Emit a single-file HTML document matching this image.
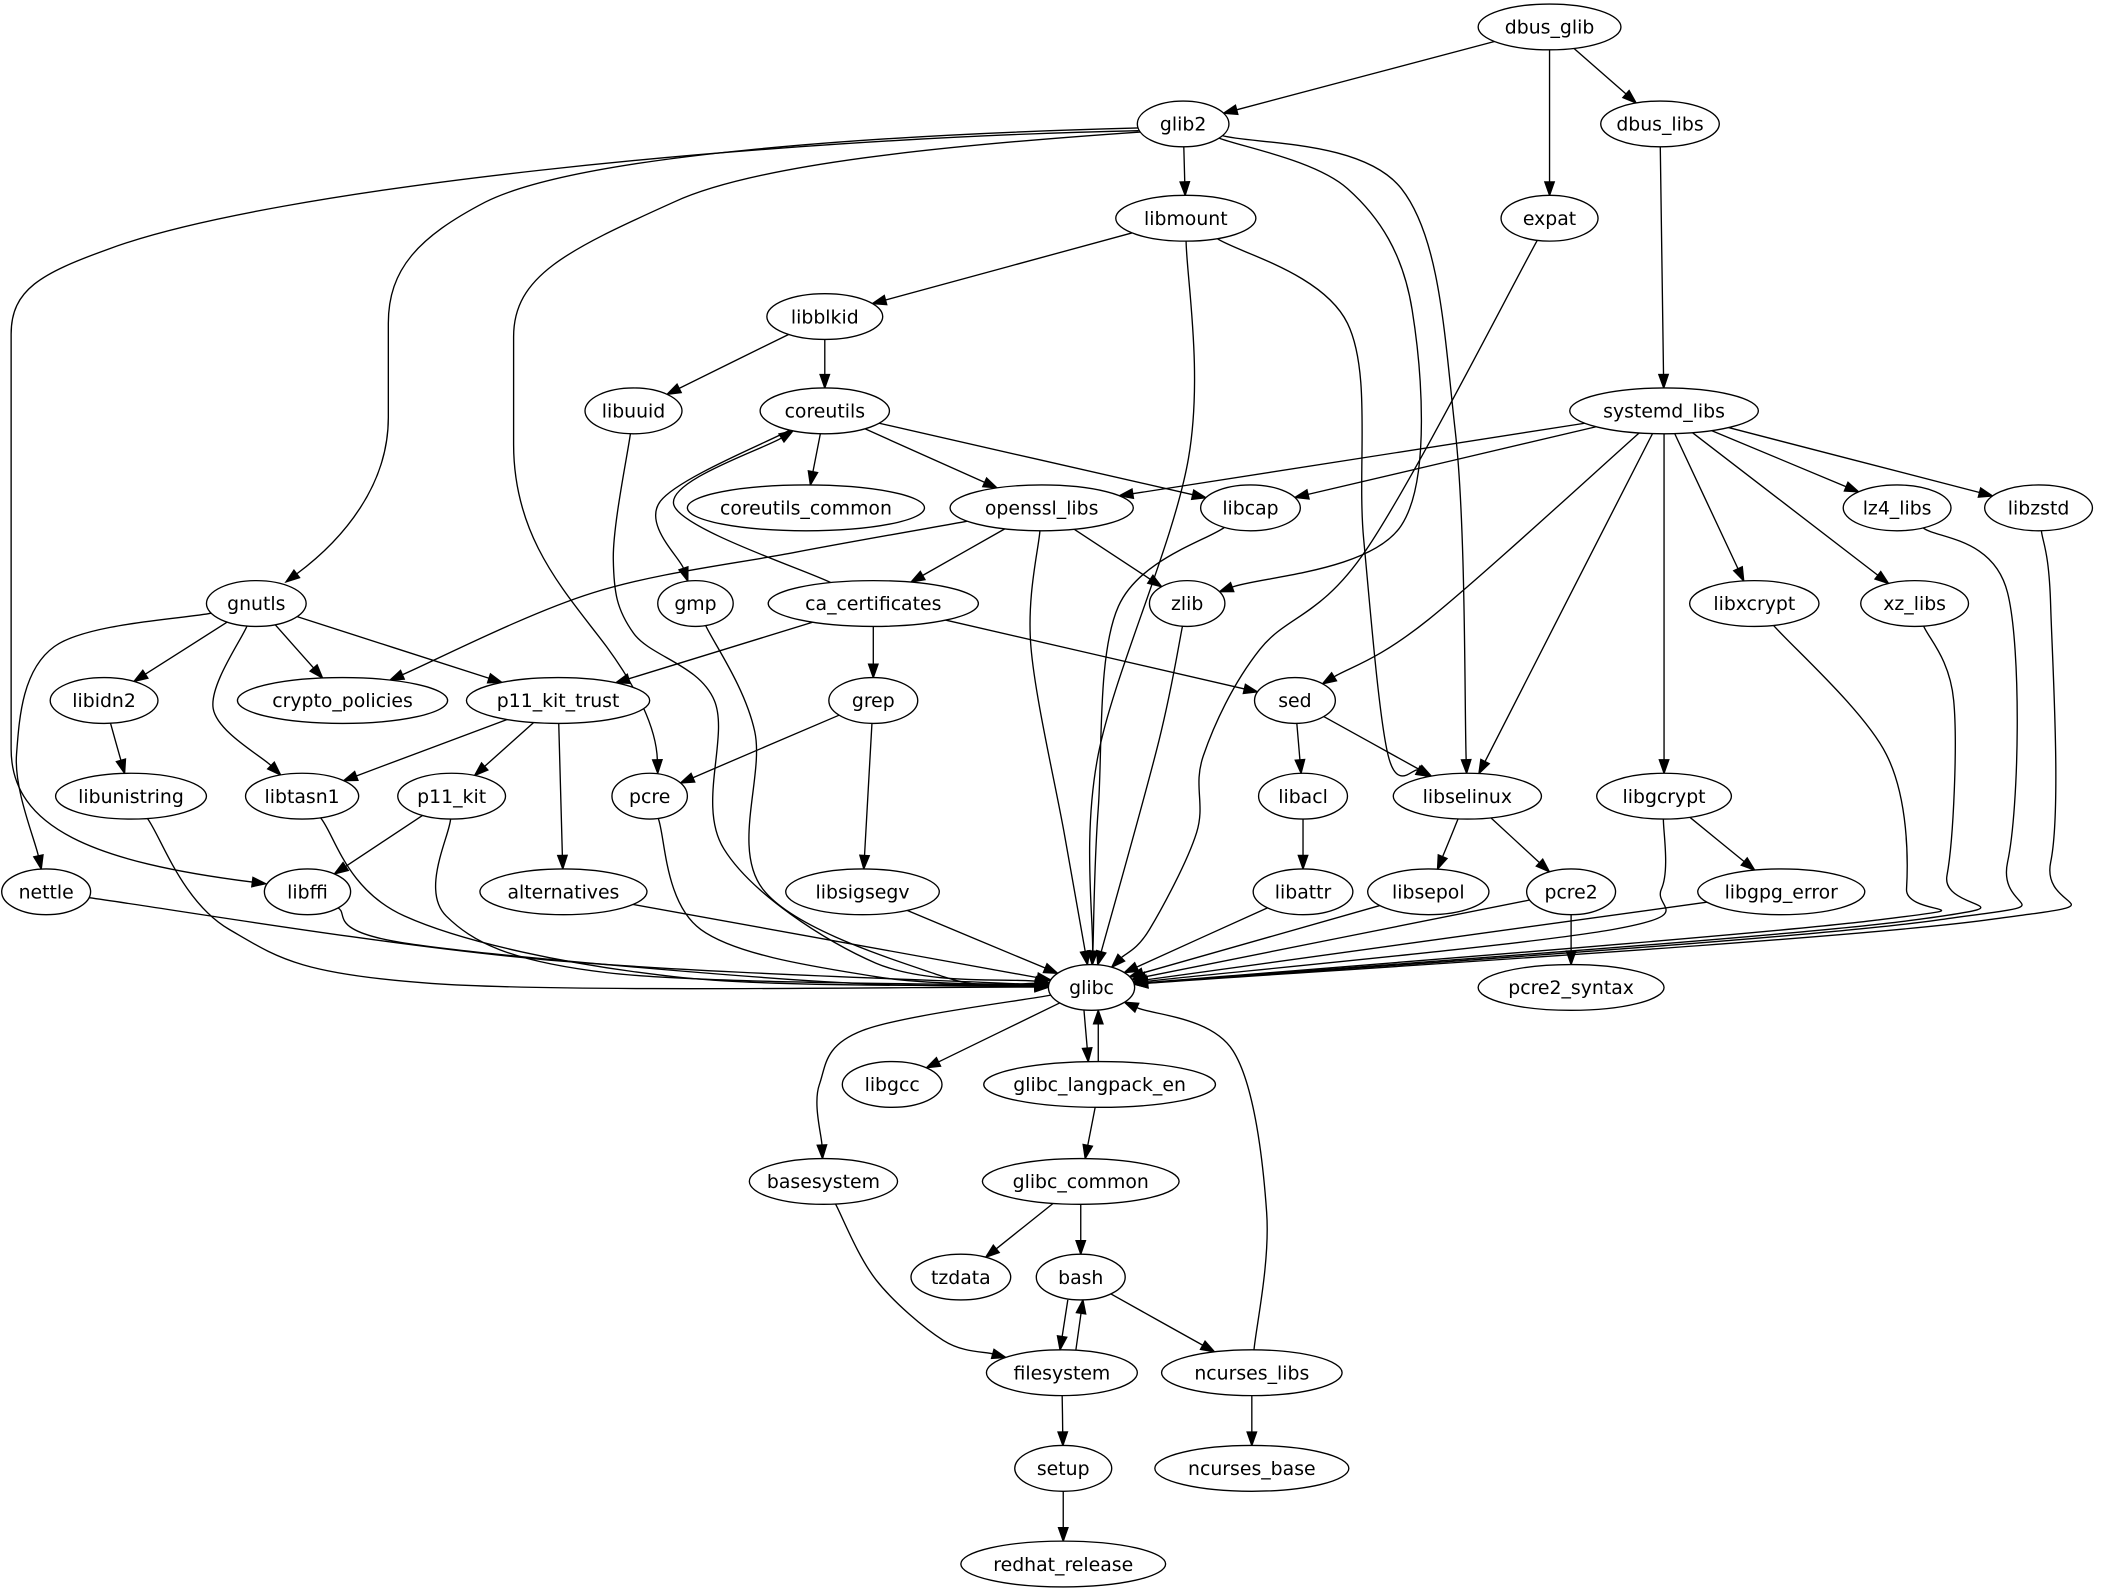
<!DOCTYPE html>
<html><head><meta charset="utf-8"><style>
html,body{margin:0;padding:0;background:#fff;}
svg{display:block}
text{font-family:"DejaVu Sans","Liberation Sans",sans-serif;font-size:14px;}
</style></head><body>
<svg id="g" xmlns="http://www.w3.org/2000/svg" width="2113" height="1595" viewBox="0 0 1568 1184"></svg>
<script>
const N={
dbus_glib:[1150,20,53],glib2:[878,92,34],dbus_libs:[1232,92,44],libmount:[880,162,52],expat:[1150,162,36],
libblkid:[612,235,43],libuuid:[470,305,36],coreutils:[612,305,48],systemd_libs:[1235,305,70],
coreutils_common:[598,377,88],openssl_libs:[773,377,68],libcap:[928,377,37],lz4_libs:[1408,377,40],libzstd:[1513,377,40],
gnutls:[190,448,37],gmp:[516,448,28],ca_certificates:[648,448,78],zlib:[881,448,28],libxcrypt:[1302,448,48],xz_libs:[1421,448,40],
libidn2:[77,520,40],crypto_policies:[254,520,78],p11_kit_trust:[414,520,68],grep:[648,520,33],sed:[961,520,30],
libunistring:[97,591,56],libtasn1:[224,591,42],p11_kit:[335,591,40],pcre:[482,591,28],libacl:[967,591,33],libselinux:[1089,591,55],libgcrypt:[1235,591,50],
nettle:[34,662,33],libffi:[228,662,32],alternatives:[418,662,62],libsigsegv:[640,662,57],libattr:[967,662,37],libsepol:[1060,662,45],pcre2:[1166,662,33],libgpg_error:[1322,662,62],
glibc:[810,733,32],pcre2_syntax:[1166,733,69],libgcc:[662,805,37],glibc_langpack_en:[816,805,86],
basesystem:[611,877,55],glibc_common:[802,877,73],tzdata:[713,948,37],bash:[802,948,33],
filesystem:[788,1019,56],ncurses_libs:[929,1019,67],setup:[789,1090,36],ncurses_base:[929,1090,72],redhat_release:[789,1161,76]};
const RY=17;
// custom cubic paths: start, then [c1,c2,p]... final p = arrow tip
const C=[
[[845,97],[[560,103],[200,140],[80,185]],[[30,203],[8,215],[8,248]],[[8,300],[8,500],[8,556]],[[8,615],[70,640],[197,656]]],
[[845,95],[[650,100],[430,115],[360,150]],[[310,176],[288,200],[288,240]],[[288,270],[288,290],[288,310]],[[288,360],[255,400],[212,432]]],
[[846,98],[[700,108],[560,122],[500,150]],[[420,186],[381,205],[381,250]],[[381,280],[381,300],[381,330]],[[381,400],[420,440],[450,480]],[[472,510],[487,540],[488,574]]]
];
const E=[
['dbus_glib','glib2'],['dbus_glib','expat'],['dbus_glib','dbus_libs'],['dbus_libs','systemd_libs'],
['glib2','libmount'],
['glib2','zlib',[[1000,140],[1048,230],[1040,390]]],
['glib2','libselinux',[[1040,140],[1080,320]]],
['expat','glibc',[[1014,408],[935,482],[893,561],[888,618],[853,690]]],
['libmount','libblkid'],['libmount','glibc',[[882,340],[815,560]]],
['libmount','libselinux',[[1000,240],[1012,400],[1030,560]]],
['libblkid','libuuid'],['libblkid','coreutils'],
['libuuid','glibc',[[455,415],[470,470],[530,520],[537,630],[650,715]]],
['coreutils','coreutils_common'],['coreutils','openssl_libs'],['coreutils','libcap'],
['coreutils','gmp',[[490,372]]],
['ca_certificates','coreutils',[[500,375]]],
['systemd_libs','openssl_libs'],['systemd_libs','libcap'],['systemd_libs','lz4_libs'],['systemd_libs','libzstd'],
['systemd_libs','xz_libs'],['systemd_libs','libxcrypt'],['systemd_libs','libgcrypt'],['systemd_libs','libselinux'],
['systemd_libs','sed',[[1060,460]]],
['openssl_libs','crypto_policies',[[590,410],[440,440]]],['openssl_libs','ca_certificates'],['openssl_libs','zlib'],
['openssl_libs','glibc',[[765,480],[790,620]]],
['libcap','glibc',[[830,450],[815,600]]],
['lz4_libs','glibc',[[1490,440],[1490,640],[1438,683]]],
['libzstd','glibc',[[1522,450],[1522,640],[1474,683]]],
['xz_libs','glibc',[[1450,520],[1445,650],[1420,683]]],
['libxcrypt','glibc',[[1400,560],[1415,660],[1393,683]]],
['gmp','glibc',[[560,543],[566,660],[700,725]]],
['zlib','glibc',[[860,550]]],
['gnutls','libidn2'],['gnutls','crypto_policies'],['gnutls','p11_kit_trust'],
['gnutls','libtasn1',[[158,526]]],['gnutls','nettle',[[40,480],[12,560]]],
['ca_certificates','p11_kit_trust'],['ca_certificates','grep'],['ca_certificates','sed'],
['grep','pcre'],['grep','libsigsegv'],['sed','libacl'],['sed','libselinux'],
['libidn2','libunistring'],['libunistring','glibc',[[170,690],[320,730]]],
['p11_kit_trust','libtasn1'],['p11_kit_trust','p11_kit'],['p11_kit_trust','alternatives'],
['p11_kit','libffi'],['p11_kit','glibc',[[331,680],[450,722]]],['libtasn1','glibc',[[300,680],[500,725]]],
['pcre','glibc',[[520,690],[650,725]]],['libacl','libattr'],['libselinux','libsepol'],['libselinux','pcre2'],
['libgcrypt','libgpg_error'],['libgcrypt','glibc',[[1233,660],[1197,690]]],
['nettle','glibc',[[400,712]]],['libffi','glibc',[[300,700],[600,728]]],['alternatives','glibc'],
['libsigsegv','glibc'],['libattr','glibc'],['libsepol','glibc'],['pcre2','glibc'],['pcre2','pcre2_syntax'],['libgpg_error','glibc'],
['glibc','libgcc'],['glibc','glibc_langpack_en',null,[-7,0],[-7,0]],['glibc_langpack_en','glibc',null,[-1,0],[5,0]],
['glibc','basesystem',[[640,765],[608,805]]],
['glibc_langpack_en','glibc_common'],['glibc_common','tzdata'],['glibc_common','bash'],
['bash','filesystem',null,[-7,0],[-4,0]],['filesystem','bash',null,[8,0],[4,0]],['bash','ncurses_libs'],
['ncurses_libs','glibc',[[940,900],[915,780]]],['ncurses_libs','ncurses_base'],
['basesystem','filesystem',[[650,950],[700,995]]],['filesystem','setup'],['setup','redhat_release']];
const svg=document.getElementById('g');let s='';
function arrow(tip,from){const dx=tip[0]-from[0],dy=tip[1]-from[1],L=Math.hypot(dx,dy),ux=dx/L,uy=dy/L;
 const bs=[tip[0]-ux*10,tip[1]-uy*10],px=-uy*3.5,py=ux*3.5;
 s+=`<polygon points="${tip[0]},${tip[1]} ${bs[0]+px},${bs[1]+py} ${bs[0]-px},${bs[1]-py}" fill="#000" stroke="#000"/>`;return bs;}
for(const c of C){let d='M'+c[0].join(',');const last=c[c.length-1];
 const bs=arrow(last[2],last[1]);
 for(let i=1;i<c.length;i++){const seg=c[i];const p=(i==c.length-1)?bs:seg[2];d+=`C${seg[0].join(',')} ${seg[1].join(',')} ${p[0].toFixed(1)},${p[1].toFixed(1)}`;}
 s+=`<path d="${d}" fill="none" stroke="#000"/>`;}
function bnd(n,tx,ty,off){const [cx0,cy,rx]=N[n];const cx=cx0+(off?off[0]:0);let dx=tx-cx,dy=ty-cy;
 const t=1/Math.sqrt((dx/rx)**2+(dy/RY)**2);return [cx+dx*t,cy+dy*t];}
for(const e of E){const [a,b,pts,oa,ob]=e;const A=N[a],B=N[b];
 const ax=A[0]+(oa?oa[0]:0),bx=B[0]+(ob?ob[0]:0);
 const p=pts||[];const f=p.length?p[0]:[bx,B[1]];const l=p.length?p[p.length-1]:[ax,A[1]];
 const st=bnd(a,f[0],f[1],oa);const en=bnd(b,l[0],l[1],ob);
 const bs=arrow(en,p.length?l:st);
 const all=[st,...p,bs];let d='M'+st[0].toFixed(1)+','+st[1].toFixed(1);
 for(let i=0;i<all.length-1;i++){const p0=all[i-1]||all[i],p1=all[i],p2=all[i+1],p3=all[i+2]||p2;
  const c1=[p1[0]+(p2[0]-p0[0])/6,p1[1]+(p2[1]-p0[1])/6],c2=[p2[0]-(p3[0]-p1[0])/6,p2[1]-(p3[1]-p1[1])/6];
  d+=`C${c1[0].toFixed(1)},${c1[1].toFixed(1)} ${c2[0].toFixed(1)},${c2[1].toFixed(1)} ${p2[0].toFixed(1)},${p2[1].toFixed(1)}`;}
 s+=`<path d="${d}" fill="none" stroke="#000" stroke-width="1"/>`;}
for(const k in N){const [x,y,rx]=N[k];s+=`<ellipse cx="${x}" cy="${y}" rx="${rx}" ry="${RY}" fill="#fff" stroke="#000"/><text x="${x}" y="${y+5}" text-anchor="middle">${k}</text>`;}
svg.innerHTML=s;
</script>
</body></html>
